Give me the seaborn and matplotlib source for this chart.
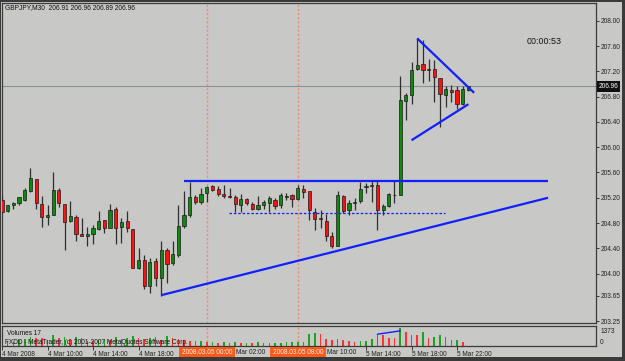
import numpy as np
import pandas as pd
import matplotlib
matplotlib.use("Agg")
import matplotlib.pyplot as plt
import matplotlib.transforms as mtransforms
from matplotlib.patches import Rectangle
import seaborn as sns

# ---------------- data (GBPJPY M30, bars from 4 Mar 2008 06:00) ----------------
opens = [205.17, 204.99, 205.09, 205.12, 205.17, 205.30, 205.50, 205.10, 204.90, 204.93,
         205.32, 205.10, 204.83, 204.90, 204.63, 204.59, 204.63, 204.71, 204.85, 204.73,
         205.02, 204.74, 204.83, 204.71, 204.09, 204.22, 203.80, 204.20, 203.93, 204.38,
         204.17, 204.29, 204.75, 204.92, 205.21, 205.14, 205.27, 205.38, 205.34, 205.26,
         205.23, 205.21, 205.08, 205.18, 205.10, 205.03, 205.08, 205.11, 205.17, 205.08,
         205.22, 205.24, 205.18, 205.34, 205.31, 204.97, 204.88, 204.83, 204.60, 204.44,
         205.23, 205.00, 205.12, 205.15, 205.37, 205.40, 205.40, 205.01, 205.07, 205.24,
         205.25, 206.73, 206.83, 207.23, 207.32, 207.23, 207.24, 207.09, 206.83, 206.90,
         206.90, 206.68, 206.91]
highs = [205.24, 205.09, 205.14, 205.22, 205.36, 205.67, 205.50, 205.23, 205.08, 205.61,
         205.35, 205.10, 205.15, 204.93, 204.88, 204.74, 204.77, 204.99, 204.85, 205.10,
         205.06, 204.88, 204.99, 204.71, 204.40, 204.29, 204.24, 204.24, 204.52, 204.40,
         204.51, 205.08, 205.31, 205.45, 205.24, 205.35, 205.39, 205.41, 205.39, 205.40,
         205.35, 205.24, 205.26, 205.19, 205.14, 205.23, 205.17, 205.23, 205.19, 205.27,
         205.27, 205.26, 205.40, 205.41, 205.31, 205.04, 205.01, 204.94, 204.66, 205.31,
         205.24, 205.17, 205.19, 205.45, 205.44, 205.46, 205.46, 205.10, 205.28, 205.46,
         207.13, 206.85, 207.34, 207.72, 207.70, 207.39, 207.38, 207.09, 206.96, 206.98,
         206.96, 206.96, 206.96]
lows = [204.96, 204.98, 205.02, 205.09, 205.15, 205.29, 205.02, 204.74, 204.77, 204.92,
        205.06, 204.38, 204.82, 204.51, 204.59, 204.43, 204.47, 204.69, 204.64, 204.72,
        204.47, 204.48, 204.66, 204.09, 204.07, 203.76, 203.69, 203.81, 203.65, 203.85,
        204.14, 204.27, 204.72, 204.89, 205.10, 205.10, 205.14, 205.30, 205.23, 205.20,
        205.19, 204.98, 204.98, 205.09, 205.01, 205.00, 205.03, 204.98, 205.02, 205.04,
        205.16, 205.06, 205.16, 205.19, 204.85, 204.69, 204.72, 204.51, 204.40, 204.44,
        204.96, 204.93, 205.01, 205.12, 205.28, 205.14, 204.69, 204.93, 205.06, 205.11,
        205.24, 206.43, 206.68, 207.22, 207.02, 207.04, 206.72, 206.32, 206.64, 206.72,
        206.60, 206.67, 206.89]
closes = [204.98, 205.08, 205.12, 205.21, 205.33, 205.52, 205.12, 204.90, 204.93, 205.32,
          205.11, 204.82, 204.91, 204.63, 204.59, 204.63, 204.72, 204.83, 204.73, 205.01,
          204.73, 204.82, 204.72, 204.09, 204.22, 203.81, 204.19, 203.93, 204.37, 204.16,
          204.31, 204.75, 204.93, 205.22, 205.13, 205.26, 205.37, 205.33, 205.26, 205.23,
          205.22, 205.10, 205.18, 205.11, 205.03, 205.09, 205.14, 205.19, 205.07, 205.24,
          205.22, 205.18, 205.36, 205.29, 205.00, 204.86, 204.87, 204.59, 204.43, 205.24,
          204.99, 205.12, 205.14, 205.34, 205.39, 205.39, 205.01, 205.07, 205.26, 205.25,
          206.75, 206.83, 207.22, 207.30, 207.22, 207.22, 207.11, 206.84, 206.92, 206.87,
          206.69, 206.92, 206.96]
volumes = [290, 420, 350, 480, 560, 700, 640, 610, 420, 860, 600, 700, 520, 690, 640, 420,
           380, 470, 500, 430, 700, 560, 620, 810, 600, 560, 640, 700, 500, 780, 650, 540,
           470, 400, 380, 420, 300, 330, 250, 280, 240, 300, 260, 270, 240, 280, 220, 200,
           210, 260, 300, 310, 340, 335, 910, 990, 940, 520, 500, 530, 470, 415, 335, 390,
           415, 520, 920, 880, 650, 640, 1373, 1115, 860, 840, 1115, 600, 725, 860, 725, 470,
           480, 335, 17]

price_ticks = [208.00, 207.60, 207.20, 206.80, 206.40, 206.00, 205.60, 205.20, 204.80,
               204.40, 204.00, 203.65, 203.25]
price_tick_labels = ["208.00", "207.60", "207.20", "206.80", "206.40", "206.00", "205.60",
                     "205.20", "204.80", "204.40", "204.00", "203.65", "203.25"]
time_tick_bars = [0, 8, 16, 24, 32, 40, 48, 56, 64, 72, 80]
# labels hidden (fully or partly) behind the separator date boxes are shown as in the chart
time_tick_labels = ["4 Mar 2008", "4 Mar 10:00", "4 Mar 14:00", "4 Mar 18:00", "",
                    "", "", "", "5 Mar 14:00", "5 Mar 18:00", "5 Mar 22:00"]
partial_time_bars = [40, 56]
partial_time_labels = ["Mar 02:00", "Mar 10:00"]
separator_bars = [36, 52]
separator_labels = ["2008.03.05 00:00", "2008.03.05 08:00"]
bid_price = 206.96
title_text = "GBPJPY,M30  206.91 206.96 206.89 206.96"
timer_text = "00:00:53"
volume_max_label = 1373
volume_current = 17

# drawn objects (bar index, price)
resistance_line = [(32, 205.47), (96, 205.47)]
support_line = [(28, 203.66), (96, 205.20)]
dotted_line = [(39.9, 204.955), (77.9, 204.955)]
triangle_upper = [(73, 207.72), (83, 206.86)]
triangle_lower = [(72, 206.11), (82, 206.68)]
volume_line = [(66, 920), (70, 1180)]

# ---------------- styling ----------------
sns.set_style("white")
plt.rcParams["font.family"] = ["Liberation Sans", "DejaVu Sans"]

BG = "#c8c8c6"
FRAME = "#3a3a3a"
W, H = 625, 361

fig = plt.figure(figsize=(W / 100, H / 100), dpi=100, facecolor=BG)


def rect(x0, y0, x1, y1):
    return [x0 / W, 1 - y1 / H, (x1 - x0) / W, (y1 - y0) / H]


ax = fig.add_axes(rect(2, 3, 596, 323))
axv = fig.add_axes(rect(2, 326, 596, 346), sharex=ax)
for a in (ax, axv):
    a.set_facecolor(BG)
    for s in a.spines.values():
        s.set_color(FRAME)
        s.set_linewidth(0.9)

n = len(opens)
idx = np.arange(n)
o = np.array(opens); c = np.array(closes)
hi = np.array(highs); lo = np.array(lows)
up = c >= o

# candles
ax.vlines(idx, lo, hi, color="#2e2e2e", lw=0.9, zorder=3)
body_bottom = np.minimum(o, c)
body_h = np.maximum(np.abs(c - o), 0.007)
ax.bar(idx, body_h, bottom=body_bottom, width=0.56,
       color=np.where(up, "#0d8a0d", "#ff1010"), edgecolor="#1a1a1a",
       linewidth=0.5, zorder=4)

# bid line
ax.axhline(bid_price, color="#8793a0", lw=0.8, zorder=2)

# separators
for b in separator_bars:
    for a in (ax, axv):
        a.axvline(b, color="#ea8d6e", lw=1.0, ls=(0, (1.5, 1.5)), zorder=1)

# drawn objects
blue = "#1020ff"
for seg in [resistance_line, support_line, triangle_upper, triangle_lower]:
    xs, ys = zip(*seg)
    ax.plot(xs, ys, color=blue, lw=1.6, zorder=5, solid_capstyle="butt")
xs, ys = zip(*dotted_line)
ax.plot(xs, ys, color=blue, lw=0.9, ls=(0, (2, 1.5)), zorder=5)

ax.set_xlim(0.035, 104.43)
ax.set_ylim(203.22, 208.28)
ax.yaxis.tick_right()
ax.set_yticks(price_ticks)
ax.set_yticklabels(price_tick_labels)
ax.tick_params(axis="y", length=2, width=0.6, pad=1.5, labelsize=4.7,
               colors="#202020", right=True, left=False)
ax.tick_params(axis="x", bottom=False, labelbottom=False)
ax.set_xlabel(""); ax.set_ylabel("")

# bid label box
tr = mtransforms.blended_transform_factory(fig.transFigure, ax.transData)
ax.text(598.5 / W, bid_price, f"{bid_price:.2f}", transform=tr, fontsize=4.7,
        color="white", va="center", ha="left", zorder=10, clip_on=False,
        bbox=dict(boxstyle="square,pad=0.25", fc="#101010", ec="none"))

# title and timer
fig.text(5 / W, 1 - 7.5 / H, title_text, fontsize=4.8, color="#101010", va="center", ha="left")
fig.text(527 / W, 1 - 41 / H, timer_text, fontsize=6.4, color="#101010", va="center", ha="left")

# volumes
vdir = ["up" if i > 0 and volumes[i] > volumes[i - 1] else "down" for i in range(n)]
vol_df = pd.DataFrame({"bar": idx, "volume": volumes, "dir": vdir})
sns.barplot(data=vol_df, x="bar", y="volume", hue="dir",
            palette={"up": "#1fa01f", "down": "#ff3030"}, native_scale=True,
            width=0.28, dodge=False, legend=False, saturation=1, linewidth=0,
            ax=axv, zorder=2)
xs, ys = zip(*volume_line)
axv.plot(xs, ys, color=blue, lw=1.0, zorder=5)
axv.set_ylim(0, 1560)
axv.set_xlim(0.035, 104.43)
axv.set_xlabel(""); axv.set_ylabel("")
axv.yaxis.tick_right()
axv.set_yticks([0, volume_max_label])
axv.set_yticklabels(["0", str(volume_max_label)])
axv.tick_params(axis="y", length=0, pad=3, labelsize=4.7, colors="#202020", right=True, left=False)
ylabs = axv.get_yticklabels()
ylabs[0].set_va("bottom")
ylabs[1].set_va("top")
axv.set_xticks(time_tick_bars)
axv.set_xticklabels(time_tick_labels)
axv.tick_params(axis="x", bottom=True, length=3, width=0.6, pad=0.8, labelsize=4.7,
                colors="#202020", direction="out")
for t in axv.get_xticklabels():
    t.set_ha("left")
axv.text(0.008, 1 - 7.5 / 20, f"Volumes {volume_current}", transform=axv.transAxes,
         fontsize=4.7, color="#101010", va="center", ha="left", zorder=6)
axv.text(0.005, 1 - 17 / 20, "FXDD - MetaTrader, (c) 2001-2007 MetaQuotes Software Corp.",
         transform=axv.transAxes, fontsize=4.7, color="#101010", va="center", ha="left", zorder=6)

trx = mtransforms.blended_transform_factory(axv.transData, fig.transFigure)
# partly hidden tick labels: visible remainder right of the date boxes
for b, lab in zip(partial_time_bars, partial_time_labels):
    axv.text(b + 1.12, 1 - 352.7 / H, lab, transform=trx, fontsize=4.7, color="#202020",
             ha="left", va="center", zorder=9, clip_on=False)

# separator date boxes on time axis
for b, lab in zip(separator_bars, separator_labels):
    axv.text(b, 1 - 352.7 / H, lab, transform=trx, fontsize=4.7, color="#fff4ee",
             ha="center", va="center", zorder=10, clip_on=False,
             bbox=dict(boxstyle="square,pad=0.4", fc="#ff5a1a", ec="none"))

# outer frame
for (x0, y0, w, h) in [(0, 0, 1.5, H), (0, 0, W, 1.5), (622, 0, 3, H), (0, 357, W, 4)]:
    fig.patches.append(Rectangle((x0 / W, 1 - (y0 + h) / H), w / W, h / H,
                                 transform=fig.transFigure, fc=FRAME, ec="none", zorder=20))

fig.savefig("out.png", dpi=100, facecolor=BG)
